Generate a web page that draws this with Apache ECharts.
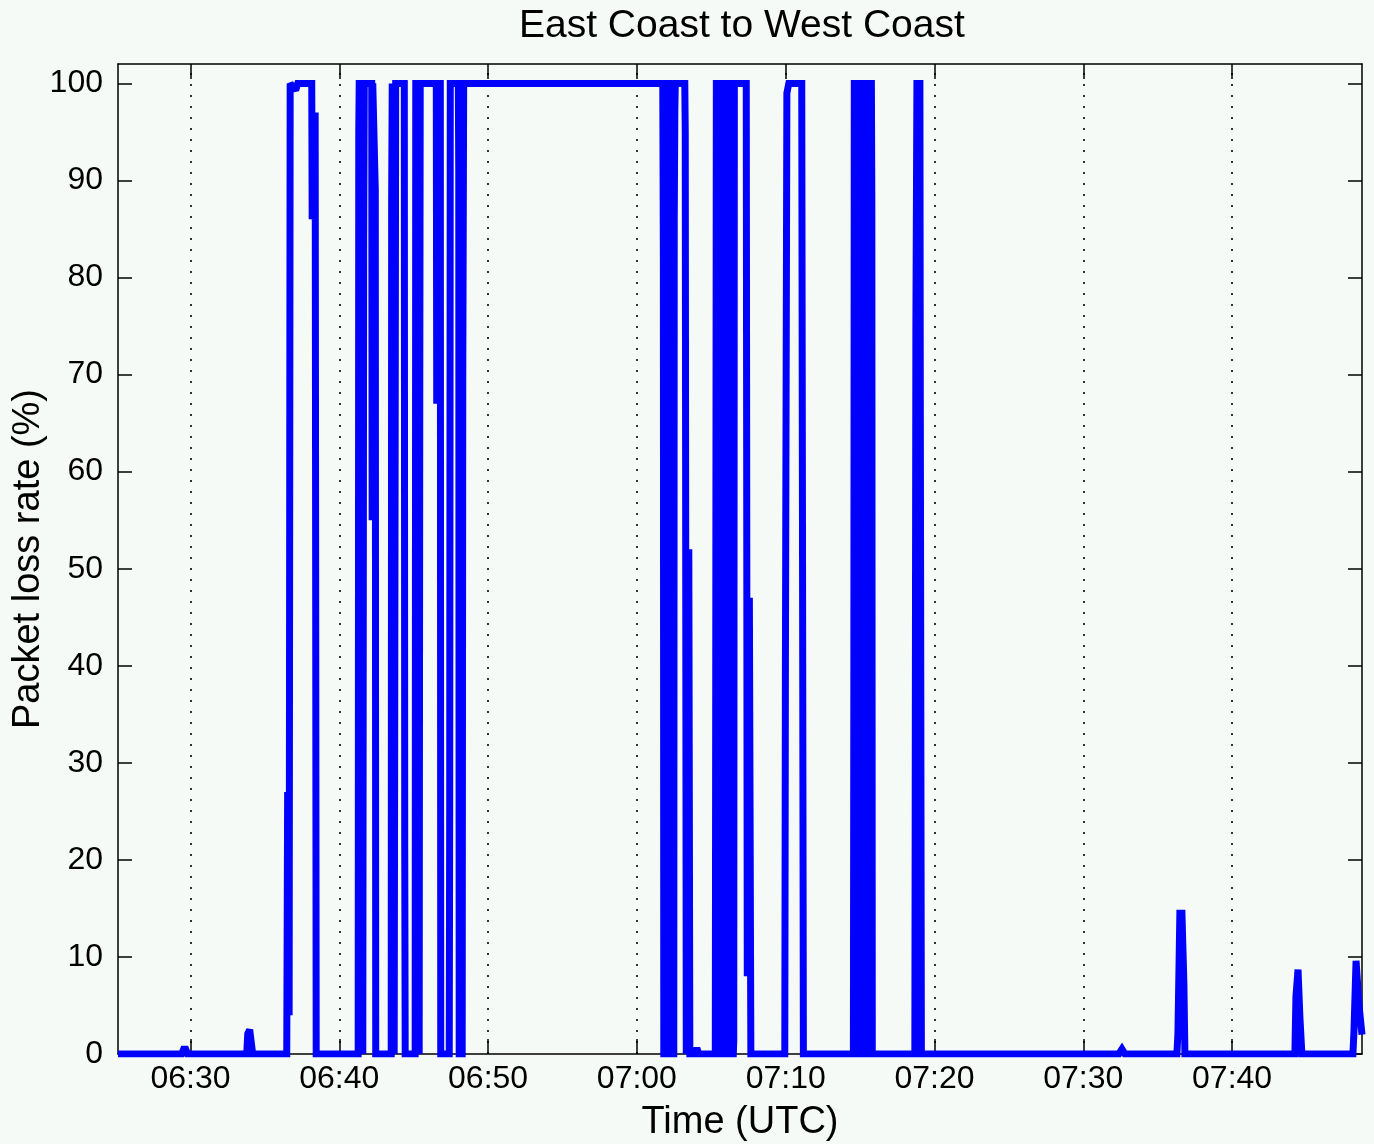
<!DOCTYPE html>
<html>
<head>
<meta charset="utf-8">
<title>East Coast to West Coast</title>
<script src="https://cdn.jsdelivr.net/npm/echarts@6.0.0/dist/echarts.min.js"></script>
<style>
  html, body { margin: 0; padding: 0; background: #f6faf7; }
  #chart { width: 1374px; height: 1144px; }
</style>
</head>
<body>
<div id="chart"></div>
<script>
// sample times, minutes after 06:00 UTC (only the points where the rate changes)
var sampleMinutes = [
  25.13, 29.41, 29.54, 29.68, 29.81, 33.78, 33.85, 33.98, 34.11, 34.18,
  36.47, 36.53, 36.63, 36.70, 37.07, 37.21, 38.15, 38.18, 38.38, 38.45,
  41.27, 41.31, 41.34, 41.54, 41.58, 41.64, 41.68, 42.18, 42.21, 42.25, 42.38, 42.42, 42.45,
  43.49, 43.52, 43.56, 43.66, 43.69, 43.76, 43.79, 44.37, 44.40, 44.43,
  45.10, 45.14, 45.34, 45.37, 45.41, 45.44, 46.52, 46.55, 46.58, 46.79, 46.82,
  47.39, 47.42, 47.46, 48.00, 48.03, 48.06, 48.26, 48.30, 48.36,
  61.74, 61.78, 61.81, 61.98, 62.01, 62.25, 62.28, 62.48, 62.51, 62.55, 62.58,
  63.22, 63.25, 63.32, 63.42, 63.49, 63.56, 63.89, 64.03, 64.16,
  65.27, 65.30, 65.34, 65.61, 65.64, 65.67, 65.91, 65.94, 65.98, 66.21, 66.25, 66.48, 66.51, 66.55,
  67.35, 67.42, 67.56, 67.66,
  69.94, 69.98, 70.08, 70.21, 71.08, 71.12, 71.19,
  74.55, 74.58, 74.61, 74.82, 74.85, 74.88, 75.08, 75.12, 75.35, 75.39, 75.55, 75.59, 75.76, 75.79, 75.82,
  78.68, 78.75, 78.82, 79.02, 79.05, 79.12,
  92.39, 92.60, 92.80,
  96.29, 96.36, 96.49, 96.63, 96.76, 96.83,
  104.22, 104.29, 104.43, 104.49, 104.56, 104.69,
  108.12, 108.19, 108.33, 108.39, 108.53, 108.73
];
// packet loss rate (%) at each sample
var lossRate = [
  0, 0, 0.5, 0.5, 0, 0, 2.1, 2.5, 2.5, 0,
  0, 27, 4, 100, 99.3, 100, 100, 86, 97, 0,
  0, 95, 100, 100, 0, 83, 100, 100, 55, 100, 100, 89, 0,
  0, 88, 100, 100, 0, 67, 100, 100, 21, 0,
  0, 100, 100, 0, 68, 100, 100, 67, 100, 100, 0,
  0, 25, 100, 100, 91, 0, 0, 70, 100,
  100, 82, 0, 0, 100, 100, 0, 0, 86, 97, 100,
  100, 95, 0, 0, 52, 0, 0, 0.6, 0,
  0, 40, 100, 100, 13, 0, 0, 4, 100, 100, 0, 0, 1.3, 100,
  100, 8, 47, 0,
  0, 39, 99, 100, 100, 62, 0,
  0, 38, 100, 100, 30, 0, 0, 100, 100, 0, 0, 100, 100, 88, 0,
  0, 75, 100, 100, 65, 0,
  0, 0.5, 0,
  0, 2.1, 14.5, 14.5, 7.3, 0,
  0, 5.9, 8.7, 8.7, 3.7, 0,
  0, 2.3, 9.6, 9.6, 5, 2
];

var timeTicks = [30, 40, 50, 60, 70, 80, 90, 100];
var timeTickLabels = ['06:30', '06:40', '06:50', '07:00', '07:10', '07:20', '07:30', '07:40'];
var lossTicks = [0, 10, 20, 30, 40, 50, 60, 70, 80, 90, 100];

var font = 'Liberation Sans, Arial, Helvetica, sans-serif';
var xMin = 25.13, xMax = 108.73;

var points = sampleMinutes.map(function (t, i) { return [t, lossRate[i]]; });

function frameAxis(extra) {
  var base = {
    type: 'value',
    axisLine: { show: true, onZero: false, lineStyle: { color: '#000', width: 1.5 } },
    splitLine: { show: false },
    axisLabel: { show: false }
  };
  return Object.assign(base, extra);
}

var chart = echarts.init(document.getElementById('chart'));
chart.setOption({
  animation: false,
  backgroundColor: '#f6faf7',
  title: {
    text: 'East Coast to West Coast',
    left: 514,
    top: 2,
    textStyle: { fontFamily: font, fontSize: 39, fontWeight: 'normal', color: '#000' }
  },
  grid: { left: 118, right: 12, top: 64, bottom: 90, containLabel: false, outerBoundsMode: 'none' },
  xAxis: [
    frameAxis({
      position: 'bottom',
      min: xMin, max: xMax,
      axisTick: { inside: true, length: 15, customValues: timeTicks, lineStyle: { color: '#000', width: 1.5 } },
      axisLabel: {
        show: true,
        customValues: timeTicks,
        formatter: function (v) { return timeTickLabels[timeTicks.indexOf(v)]; },
        margin: 9,
        fontFamily: font, fontSize: 32, color: '#000'
      },
      name: 'Time (UTC)',
      nameLocation: 'middle',
      nameGap: 50,
      nameMoveOverlap: false,
      nameTextStyle: { fontFamily: font, fontSize: 38, color: '#000' }
    }),
    frameAxis({
      position: 'top',
      min: xMin, max: xMax,
      axisTick: { inside: true, length: 15, customValues: timeTicks, lineStyle: { color: '#000', width: 1.5 } }
    })
  ],
  yAxis: [
    frameAxis({
      position: 'left',
      min: 0, max: 102,
      axisTick: { inside: true, length: 14, customValues: lossTicks, lineStyle: { color: '#000', width: 1.5 } },
      axisLabel: {
        show: true,
        customValues: lossTicks,
        margin: 15,
        fontFamily: font, fontSize: 32, color: '#000'
      },
      name: 'Packet loss rate (%)',
      nameLocation: 'middle',
      nameGap: 70,
      nameMoveOverlap: false,
      nameTextStyle: { fontFamily: font, fontSize: 38, color: '#000' }
    }),
    frameAxis({
      position: 'right',
      min: 0, max: 102,
      axisTick: { inside: true, length: 14, customValues: lossTicks, lineStyle: { color: '#000', width: 1.5 } }
    })
  ],
  series: [
    {
      type: 'line',
      xAxisIndex: 0,
      yAxisIndex: 0,
      data: points,
      showSymbol: false,
      symbol: 'none',
      z: 3,
      lineStyle: { color: '#0000ff', width: 7, join: 'miter', miterLimit: 2 },
      markLine: {
        silent: true,
        z: 1,
        symbol: ['none', 'none'],
        label: { show: false },
        lineStyle: { color: '#000', type: [2, 9], width: 1.6 },
        data: timeTicks.map(function (t) { return { xAxis: t }; })
      }
    }
  ]
});
</script>
</body>
</html>
